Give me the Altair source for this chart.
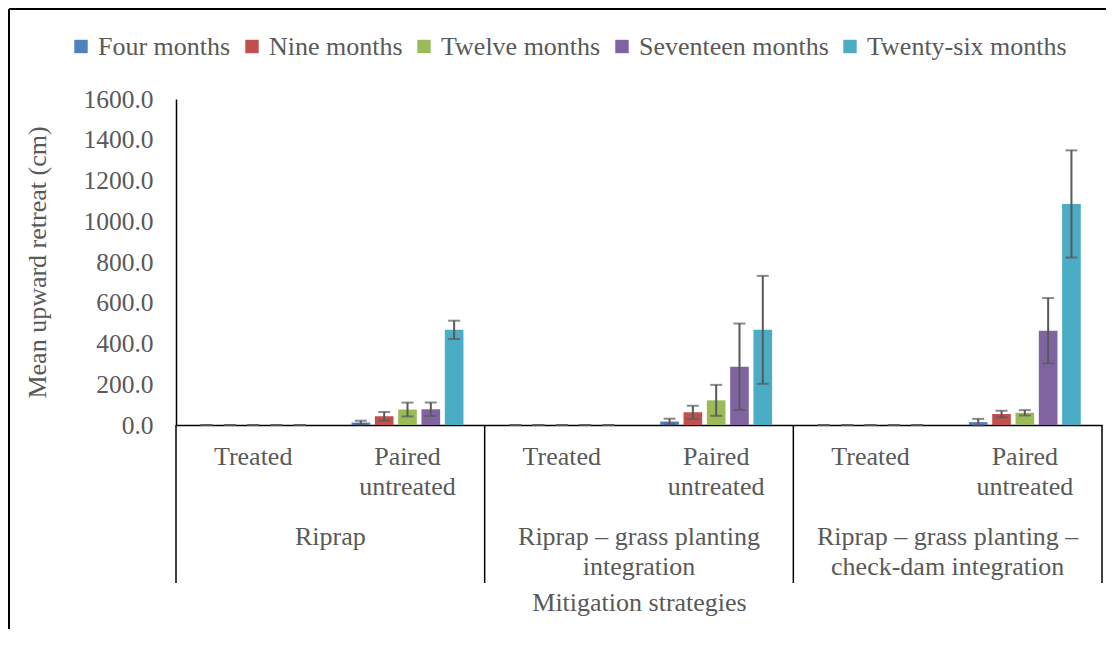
import altair as alt
import pandas as pd

# ---------------- data ----------------
groups = ["Riprap", "Riprap – grass planting integration",
          "Riprap – grass planting – check-dam integration"]
subs = ["Treated", "Paired untreated"]
series = ["Four months", "Nine months", "Twelve months",
          "Seventeen months", "Twenty-six months"]
colors = ["#4F81BD", "#C0504D", "#9BBB59", "#8064A2", "#4BACC6"]

riprap_treated = [0, 0, 0, 0, 0]
riprap_treated_err = [0, 0, 0, 0, 0]
riprap_paired = [12, 43, 76, 77, 467]
riprap_paired_err = [9, 21, 34, 33, 45]

grass_treated = [0, 0, 0, 0, 0]
grass_treated_err = [0, 0, 0, 0, 0]
grass_paired = [17, 62, 121, 286, 467]
grass_paired_err = [14, 32, 76, 212, 265]

dam_treated = [0, 0, 0, 0, 0]
dam_treated_err = [0, 0, 0, 0, 0]
dam_paired = [14, 54, 60, 463, 1085]
dam_paired_err = [16, 16, 13, 160, 263]

sub_line1 = ["Treated", "Paired"]
sub_line2 = ["", "untreated"]
group_line1 = ["Riprap", "Riprap – grass planting", "Riprap – grass planting –"]
group_line2 = ["", "integration", "check-dam integration"]

y_ticks = [0, 200, 400, 600, 800, 1000, 1200, 1400, 1600]

# ---------------- tables ----------------
table = [
    (riprap_treated, riprap_treated_err), (riprap_paired, riprap_paired_err),
    (grass_treated, grass_treated_err), (grass_paired, grass_paired_err),
    (dam_treated, dam_treated_err), (dam_paired, dam_paired_err),
]
cats = [f"{g}|{s}" for g in groups for s in subs]

rows = []
for ci, (vals, errs) in enumerate(table):
    for k, ser in enumerate(series):
        rows.append({"cat": cats[ci], "series": ser, "value": vals[k],
                     "lo": vals[k] - errs[k], "hi": vals[k] + errs[k]})
df = pd.DataFrame(rows)

sub_df = pd.DataFrame({"cat": cats,
                       "l1": [sub_line1[i % 2] for i in range(6)],
                       "l2": [sub_line2[i % 2] for i in range(6)]})
grp_df = pd.DataFrame({"cat": [cats[0], cats[2], cats[4]],
                       "l1": group_line1, "l2": group_line2})
div_start = pd.DataFrame({"cat": [cats[0], cats[2], cats[4]]})
div_end = pd.DataFrame({"cat": [cats[5]]})

FONT = "Liberation Serif"
GREY = "#595959"
W, H = 926, 326

xscale = alt.Scale(domain=cats, paddingInner=0, paddingOuter=0)
xoff = alt.XOffset("series:N", sort=series,
                   scale=alt.Scale(domain=series, paddingInner=0.2, paddingOuter=0.91))
yscale = alt.Scale(domain=[0, 1600], nice=False)

base = alt.Chart(df)

bars = base.mark_bar().encode(
    x=alt.X("cat:N", sort=cats, scale=xscale,
            axis=alt.Axis(labels=False, ticks=False, domain=True, domainColor="black",
                          domainWidth=1.5, title="Mitigation strategies",
                          titleFont=FONT, titleFontSize=26, titleFontWeight="normal",
                          titleColor=GREY, titleY=177, titleBaseline="middle")),
    xOffset=xoff,
    y=alt.Y("value:Q", scale=yscale,
            axis=alt.Axis(values=y_ticks, format=".1f", ticks=False, grid=False,
                          domainColor="black", domainWidth=1.5,
                          labelFont=FONT, labelFontSize=25.5, labelColor=GREY,
                          labelPadding=23,
                          title="Mean upward retreat (cm)", titleFont=FONT,
                          titleFontSize=26, titleFontWeight="normal", titleColor=GREY,
                          titleAngle=270, titleX=-139, titleY=163,
                          titleAlign="center", titleBaseline="middle")),
    color=alt.Color("series:N", sort=series,
                    scale=alt.Scale(domain=series, range=colors),
                    legend=alt.Legend(title=None, orient="none", direction="horizontal",
                                      columns=5, legendX=-108, legendY=-65.5,
                                      symbolType="square", symbolSize=180,
                                      symbolStrokeWidth=0, symbolOpacity=1,
                                      symbolOffset=0, padding=0,
                                      labelFont=FONT, labelFontSize=26,
                                      labelColor=GREY, labelOffset=4,
                                      columnPadding=8, labelLimit=400)),
)

err_rule = base.mark_rule(color="#595959", strokeWidth=2).encode(
    x=alt.X("cat:N", sort=cats, scale=xscale),
    xOffset=xoff,
    y=alt.Y("lo:Q", scale=yscale),
    y2="hi:Q",
)
cap_hi = base.mark_tick(color="#595959", thickness=2, size=12).encode(
    x=alt.X("cat:N", sort=cats, scale=xscale),
    xOffset=xoff,
    y=alt.Y("hi:Q", scale=yscale),
)
cap_lo = base.mark_tick(color="#595959", thickness=2, size=12).encode(
    x=alt.X("cat:N", sort=cats, scale=xscale),
    xOffset=xoff,
    y=alt.Y("lo:Q", scale=yscale),
)

txt = dict(font=FONT, fontSize=26, color=GREY, align="center", baseline="middle")
sub1 = alt.Chart(sub_df).mark_text(**txt).encode(
    x=alt.X("cat:N", sort=cats, scale=xscale), y=alt.value(357.7), text="l1:N")
sub2 = alt.Chart(sub_df).mark_text(**txt).encode(
    x=alt.X("cat:N", sort=cats, scale=xscale), y=alt.value(388.3), text="l2:N")
grp1 = alt.Chart(grp_df).mark_text(**txt).encode(
    x=alt.X("cat:N", sort=cats, scale=xscale, bandPosition=1), y=alt.value(437.7), text="l1:N")
grp2 = alt.Chart(grp_df).mark_text(**txt).encode(
    x=alt.X("cat:N", sort=cats, scale=xscale, bandPosition=1), y=alt.value(467.7), text="l2:N")

div1 = alt.Chart(div_start).mark_rule(color="black", strokeWidth=1.5).encode(
    x=alt.X("cat:N", sort=cats, scale=xscale, bandPosition=0),
    y=alt.value(H), y2=alt.value(484))
div2 = alt.Chart(div_end).mark_rule(color="black", strokeWidth=1.5).encode(
    x=alt.X("cat:N", sort=cats, scale=xscale, bandPosition=1),
    y=alt.value(H), y2=alt.value(484))

frame_top = alt.Chart(div_end).mark_rule(color="black", strokeWidth=2).encode(
    x=alt.value(-167), x2=alt.value(930), y=alt.value(-90))
frame_left = alt.Chart(div_end).mark_rule(color="black", strokeWidth=2).encode(
    x=alt.value(-167), y=alt.value(-90), y2=alt.value(530))

chart = alt.layer(
    frame_top, frame_left, bars, err_rule, cap_hi, cap_lo,
    sub1, sub2, grp1, grp2, div1, div2,
).properties(width=W, height=H, padding=0).configure_view(stroke=None)

chart.save("out.html", embed_options={"renderer": "svg", "actions": False})
